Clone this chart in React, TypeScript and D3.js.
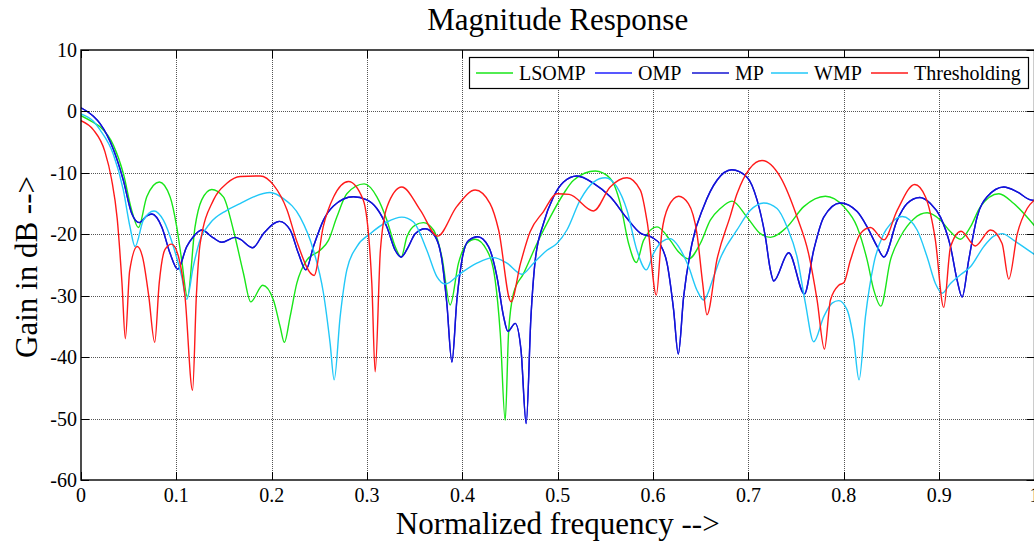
import React, { useEffect, useRef } from 'react'
import * as d3 from 'd3'

// values: [normalized frequency, gain in dB]
const lsompPts: [number, number][] = [
  [0, -0.7], [0.013, -1.8], [0.02, -2.5], [0.034, -5.5], [0.0444, -10.1], [0.0532, -16.1], [0.0602, -18.9],
  [0.069, -13.9], [0.0822, -11.5], [0.0934, -13.9], [0.1004, -18.8], [0.1056, -24.2], [0.1116, -30.2],
  [0.1196, -18.8], [0.1266, -14.4], [0.1371, -12.7], [0.1493, -13.9], [0.1598, -19.3], [0.1703, -26.3],
  [0.178, -31], [0.1906, -28.3], [0.2018, -30.7], [0.2088, -35], [0.2133, -37.6], [0.2193, -33.4],
  [0.2263, -28], [0.2368, -24.2], [0.2508, -22.6], [0.2595, -21], [0.2683, -17.2], [0.2788, -13.4],
  [0.297, -11.8], [0.3103, -13.9], [0.3208, -17.7], [0.3295, -22], [0.3358, -23.7], [0.3418, -20.4],
  [0.3505, -18.5], [0.3592, -18.1], [0.3697, -19.3], [0.3785, -23.7], [0.3872, -31.5], [0.3959, -24.7],
  [0.4047, -21.5], [0.4134, -20.8], [0.4257, -22.6], [0.4344, -27.5], [0.4397, -36.1], [0.4449, -50.3],
  [0.4484, -36.1], [0.4536, -29.6], [0.4641, -26.4], [0.4782, -21.5], [0.4921, -17.2], [0.5061, -13.4],
  [0.5166, -11.2], [0.5394, -9.7], [0.5551, -10.9], [0.5656, -15], [0.5743, -21.5], [0.5824, -24.6],
  [0.59, -21], [0.6041, -18.8], [0.618, -21], [0.6268, -22.9], [0.6373, -24], [0.6495, -21.5],
  [0.66, -17.7], [0.6705, -15.8], [0.6828, -14.6], [0.6985, -17.2], [0.7125, -19.9], [0.723, -20.5],
  [0.7405, -18.8], [0.758, -15.5], [0.7807, -13.8], [0.8, -15.5], [0.814, -18.8], [0.8245, -24.2],
  [0.8315, -29.1], [0.8388, -31.7], [0.8489, -24.2], [0.8594, -20.4], [0.8733, -17.5], [0.8874, -16.5],
  [0.9014, -17.7], [0.9119, -19.6], [0.9224, -20.8], [0.9328, -18.8], [0.9433, -15.5], [0.9626, -13.4],
  [0.9783, -15], [1.0, -18.6]
]

const ompPts: [number, number][] = [
  [0, 0.6], [0.013, -0.8], [0.02, -2], [0.034, -6.2], [0.0444, -11.2], [0.0532, -16.6], [0.0612, -18.1],
  [0.069, -17], [0.0742, -16.7], [0.0847, -18.8], [0.0934, -23.1], [0.1014, -25.7], [0.1109, -22],
  [0.1178, -20.4], [0.1266, -19.3], [0.1388, -20.6], [0.1476, -21.3], [0.1616, -20.5], [0.1668, -20.8],
  [0.1801, -22.2], [0.1913, -19.9], [0.2081, -17.9], [0.2193, -19.3], [0.228, -23.1], [0.2358, -25.8],
  [0.2438, -22], [0.2543, -17.7], [0.2648, -15.4], [0.2857, -13.9], [0.2998, -14.4], [0.3103, -15.8],
  [0.3208, -18.8], [0.3295, -22.6], [0.3358, -23.7], [0.3434, -22], [0.3505, -19.9], [0.361, -19.1],
  [0.3715, -20.4], [0.3785, -24.2], [0.3837, -31.3], [0.389, -40.8], [0.3942, -30.7], [0.3995, -24.2],
  [0.4064, -21], [0.4159, -20.4], [0.4274, -22], [0.4362, -26.9], [0.4432, -33.4], [0.4477, -35.8],
  [0.4554, -34.5], [0.4615, -38.9], [0.4669, -50.8], [0.4719, -33.4], [0.4764, -24.2], [0.4851, -18.2],
  [0.4956, -13.9], [0.5061, -11.5], [0.5201, -10.5], [0.5376, -11.7], [0.5551, -13.9], [0.5726, -17.4],
  [0.5866, -19.8], [0.5988, -20.5], [0.6076, -21.7], [0.6146, -24.7], [0.6215, -32.3], [0.6264, -39.5],
  [0.632, -30.2], [0.6408, -21.5], [0.653, -15.5], [0.667, -11.2], [0.6825, -9.5], [0.6985, -10.7],
  [0.709, -14.4], [0.7177, -20.4], [0.723, -25.8], [0.7265, -27.6], [0.7422, -23], [0.7587, -29.7],
  [0.7684, -22.6], [0.779, -17.2], [0.7964, -14.9], [0.814, -16.3], [0.8245, -18.8], [0.835, -22],
  [0.842, -23.7], [0.856, -17.7], [0.8664, -15], [0.8797, -14], [0.8909, -15], [0.9014, -17.2],
  [0.9119, -22], [0.9189, -27.5], [0.9241, -30.2], [0.931, -24.2], [0.9398, -17.2], [0.9503, -13.9],
  [0.9678, -12.3], [0.9818, -13.1], [0.9958, -14.4], [1.0, -14.5]
]

// MP lies on top of OMP over the whole band in the reference
const mpPts: [number, number][] = ompPts

const wmpPts: [number, number][] = [
  [0, -0.4], [0.013, -1.6], [0.02, -3], [0.034, -7], [0.0444, -12.8], [0.0514, -18.8], [0.0567, -22],
  [0.0654, -17.7], [0.0766, -16.2], [0.0864, -17.7], [0.0969, -22], [0.1056, -26.9], [0.1109, -30.6],
  [0.1178, -25.2], [0.1249, -20.9], [0.1354, -18.2], [0.1529, -16.1], [0.1668, -15], [0.181, -13.9],
  [0.1983, -13.2], [0.2123, -14.2], [0.2298, -17.2], [0.2438, -22.6], [0.2543, -29.6], [0.2613, -37.8],
  [0.2655, -43.7], [0.2718, -33.4], [0.2788, -25.8], [0.2893, -22], [0.3033, -19.9], [0.3208, -18],
  [0.3365, -17.2], [0.3487, -18], [0.3627, -22.6], [0.3732, -26.9], [0.382, -28.1], [0.3977, -26.4],
  [0.4152, -24.7], [0.4326, -23.8], [0.4467, -24.7], [0.4624, -26.5], [0.4746, -24.7], [0.4887, -22.6],
  [0.4991, -21.5], [0.5096, -19.3], [0.5236, -14.4], [0.5376, -11.5], [0.5498, -10.8], [0.562, -12.3],
  [0.5726, -16.1], [0.583, -22.6], [0.5929, -25.8], [0.6005, -23.1], [0.6093, -21.2], [0.618, -20.7],
  [0.6268, -22], [0.6373, -25.3], [0.646, -29.1], [0.653, -30.7], [0.6635, -26.9], [0.6705, -23.9],
  [0.688, -19.3], [0.702, -16.1], [0.716, -14.9], [0.73, -15.8], [0.7405, -18.8], [0.751, -23.7],
  [0.7597, -31.2], [0.7684, -37.5], [0.779, -33.4], [0.7877, -31.2], [0.7947, -30.8], [0.8035, -32.3],
  [0.8104, -37.2], [0.816, -43.7], [0.8227, -33.4], [0.8314, -24.8], [0.842, -19.9], [0.849, -18.3],
  [0.8612, -17.1], [0.8769, -19.3], [0.8874, -23.7], [0.8961, -28], [0.9031, -29.6], [0.9119, -28],
  [0.9224, -26.6], [0.9328, -25.3], [0.9468, -22], [0.9573, -20.3], [0.9661, -19.9], [0.9783, -21],
  [1.0, -23.3]
]

const thresholdingPts: [number, number][] = [
  [0, -1.5], [0.013, -3], [0.025, -6.5], [0.032, -11], [0.038, -17.5], [0.043, -28], [0.0465, -37],
  [0.051, -26], [0.059, -22], [0.065, -24], [0.071, -30], [0.0773, -37.6], [0.082, -28], [0.088, -22.5],
  [0.095, -21.6], [0.102, -23.5], [0.109, -30], [0.117, -45.4], [0.121, -30], [0.125, -21.5],
  [0.139, -14.4], [0.153, -11.7], [0.167, -10.6], [0.188, -10.5], [0.202, -12], [0.216, -16],
  [0.226, -21], [0.2445, -26.7], [0.254, -18.8], [0.265, -13.9], [0.2805, -11.4], [0.296, -14.4],
  [0.305, -28], [0.3085, -42.4], [0.314, -22.6], [0.321, -15.5], [0.3365, -12.3], [0.356, -16.1],
  [0.374, -20.3], [0.394, -15.5], [0.4134, -12.8], [0.429, -15], [0.438, -19.3], [0.451, -31],
  [0.461, -24.7], [0.471, -19.6], [0.485, -16.3], [0.499, -13.4], [0.512, -13.5], [0.5376, -16.2],
  [0.555, -12.3], [0.5726, -10.8], [0.5866, -12.8], [0.594, -18.2], [0.6034, -29.9], [0.609, -19.9],
  [0.616, -15.5], [0.6268, -13.8], [0.637, -15], [0.646, -19.9], [0.652, -28], [0.6565, -33.1],
  [0.667, -24.1], [0.681, -17], [0.688, -13.4], [0.7143, -8], [0.7335, -10.7], [0.751, -17.2],
  [0.763, -23.1], [0.772, -30.7], [0.7797, -38.7], [0.786, -30.7], [0.7947, -28.3], [0.8, -27.9],
  [0.807, -24.2], [0.8174, -19.9], [0.828, -18.9], [0.842, -20.9], [0.856, -16.1], [0.8744, -11.9],
  [0.8856, -13.9], [0.896, -20.9], [0.9048, -31.9], [0.912, -22], [0.923, -19.5], [0.938, -21.9],
  [0.9538, -19.3], [0.966, -21.5], [0.973, -27.3], [0.982, -19.9], [0.9923, -15.8], [1.0, -14.4]
]

const seriesNames = ['LSOMP', 'OMP', 'MP', 'WMP', 'Thresholding']
const seriesColors = ['#19e619', '#2020ff', '#1414d2', '#22c8f8', '#ff1a1a']
const seriesData = [lsompPts, ompPts, mpPts, wmpPts, thresholdingPts]

const xTicks = [0, 0.1, 0.2, 0.3, 0.4, 0.5, 0.6, 0.7, 0.8, 0.9, 1]
const xTickLabels = ['0', '0.1', '0.2', '0.3', '0.4', '0.5', '0.6', '0.7', '0.8', '0.9', '1']
const yTicks = [10, 0, -10, -20, -30, -40, -50, -60]
const yTickLabels = ['10', '0', '-10', '-20', '-30', '-40', '-50', '-60']

const W = 1034
const H = 542
const FONT = '"Liberation Serif", "Times New Roman", serif'

export default function App () {
  const ref = useRef<SVGSVGElement>(null)

  useEffect(() => {
    const svg = d3.select(ref.current)
    svg.selectAll('*').remove()

    const left = 81
    const right = 1034.5
    const top = 50
    const bottom = 480

    const x = d3.scaleLinear().domain([0, 1]).range([left, right])
    const y = d3.scaleLinear().domain([-60, 10]).range([bottom, top])

    svg.append('rect').attr('width', W).attr('height', H).attr('fill', '#fff')

    // dotted grid
    const grid = svg.append('g')
      .attr('stroke', '#555')
      .attr('stroke-width', 1)
      .attr('stroke-dasharray', '1 1')
    xTicks.slice(1, -1).forEach(t => {
      grid.append('line')
        .attr('x1', Math.round(x(t)) + 0.5).attr('x2', Math.round(x(t)) + 0.5)
        .attr('y1', top).attr('y2', bottom)
    })
    yTicks.slice(1, -1).forEach(t => {
      grid.append('line')
        .attr('x1', left).attr('x2', right)
        .attr('y1', Math.round(y(t)) + 0.5).attr('y2', Math.round(y(t)) + 0.5)
    })

    // curves
    svg.append('clipPath').attr('id', 'plot-clip')
      .append('rect')
      .attr('x', left).attr('y', top)
      .attr('width', right - left).attr('height', bottom - top)

    const line = d3.line<[number, number]>()
      .x(d => x(d[0]))
      .y(d => y(d[1]))
      .curve(d3.curveMonotoneX)

    const curves = svg.append('g').attr('clip-path', 'url(#plot-clip)')
    seriesData.forEach((pts, i) => {
      curves.append('path')
        .datum(pts)
        .attr('d', line)
        .attr('fill', 'none')
        .attr('stroke', seriesColors[i])
        .attr('stroke-width', 1.4)
        .attr('stroke-linejoin', 'round')
    })

    // axes box and inward ticks
    const axes = svg.append('g').attr('stroke', '#000').attr('fill', 'none')
    axes.append('rect')
      .attr('x', left).attr('y', top)
      .attr('width', right - left).attr('height', bottom - top)
      .attr('stroke-width', 1.4)
    const tick = 8
    xTicks.forEach(t => {
      const px = Math.round(x(t)) + 0.5
      axes.append('line').attr('x1', px).attr('x2', px).attr('y1', bottom).attr('y2', bottom - tick)
      axes.append('line').attr('x1', px).attr('x2', px).attr('y1', top).attr('y2', top + tick)
    })
    yTicks.forEach(t => {
      const py = Math.round(y(t)) + 0.5
      axes.append('line').attr('x1', left).attr('x2', left + tick).attr('y1', py).attr('y2', py)
      axes.append('line').attr('x1', right).attr('x2', right - tick).attr('y1', py).attr('y2', py)
    })

    // tick labels
    const labels = svg.append('g').attr('font-family', FONT).attr('font-size', 20).attr('fill', '#000')
    xTicks.forEach((t, i) => {
      labels.append('text')
        .attr('x', x(t)).attr('y', 502)
        .attr('text-anchor', 'middle')
        .text(xTickLabels[i])
    })
    yTicks.forEach((t, i) => {
      labels.append('text')
        .attr('x', 77).attr('y', y(t) + 7)
        .attr('text-anchor', 'end')
        .text(yTickLabels[i])
    })

    // title and axis labels
    svg.append('text')
      .attr('x', (left + right) / 2).attr('y', 30)
      .attr('text-anchor', 'middle')
      .attr('font-family', FONT).attr('font-size', 31)
      .text('Magnitude Response')
    svg.append('text')
      .attr('x', (left + right) / 2).attr('y', 534)
      .attr('text-anchor', 'middle')
      .attr('font-family', FONT).attr('font-size', 31)
      .text('Normalized frequency -->')
    svg.append('text')
      .attr('transform', 'translate(37,267) rotate(-90)')
      .attr('text-anchor', 'middle')
      .attr('font-family', FONT).attr('font-size', 31)
      .text('Gain in dB -->')

    // legend
    const lg = svg.append('g')
    lg.append('rect')
      .attr('x', 469.5).attr('y', 57.5)
      .attr('width', 559).attr('height', 31)
      .attr('fill', '#fff').attr('stroke', '#000').attr('stroke-width', 1.2)
    const itemX = [476, 595, 692, 771, 871]
    seriesNames.forEach((name, i) => {
      lg.append('line')
        .attr('x1', itemX[i]).attr('x2', itemX[i] + 37)
        .attr('y1', 73).attr('y2', 73)
        .attr('stroke', seriesColors[i]).attr('stroke-width', 1.5)
      lg.append('text')
        .attr('x', itemX[i] + 43).attr('y', 80)
        .attr('font-family', FONT).attr('font-size', 20)
        .text(name)
    })
  }, [])

  return (
    <svg
      ref={ref}
      width={W}
      height={H}
      style={{ position: 'absolute', left: 0, top: 0, display: 'block' }}
    />
  )
}
